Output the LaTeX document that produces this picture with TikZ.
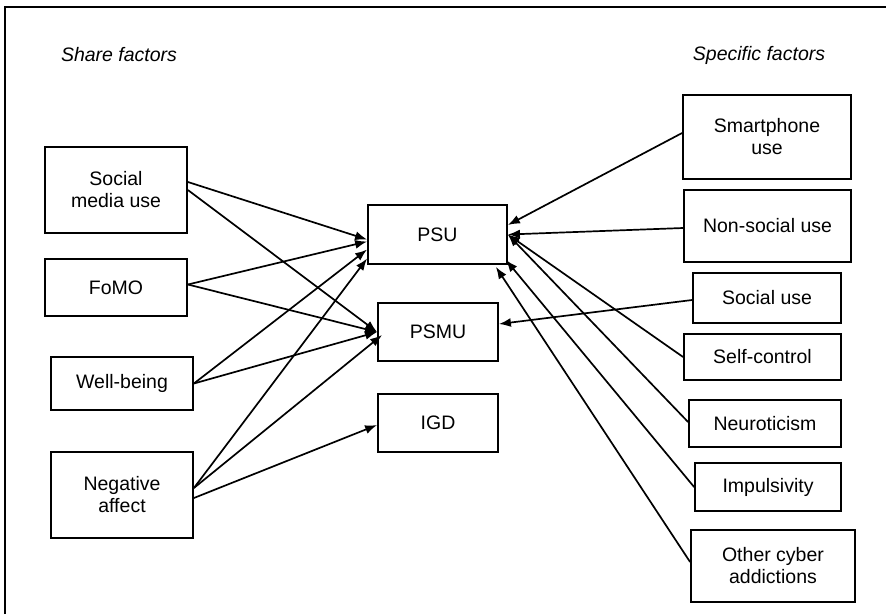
\documentclass[tikz,border=0pt]{standalone}
\usepackage{fontspec}
\setmainfont{Liberation Sans}
\usetikzlibrary{arrows.meta,calc}

\begin{document}
\begin{tikzpicture}[x=1pt,y=-1pt,
		factor/.style={draw,line width=1.8pt,align=center,inner sep=0pt,font=\fontsize{19.5}{22}\selectfont},
		heading/.style={font=\fontsize{19.5}{22}\selectfont\itshape},
		link/.style={line width=1.7pt,-{Latex[length=12pt,width=9pt]}}]
	\useasboundingbox (0,0) rectangle (886,614);
	% frame
	\draw[line width=1.8pt] (5,614) |- (886,7);
	% headings
	\node[heading] (shared) at (119,55) {Share factors};
	\node[heading] (specific) at (759,55) {Specific factors};
	% share factors
	\node[factor,minimum width=142pt,minimum height=86pt] (sm) at (116,190) {Social\\media use};
	\node[factor,minimum width=142pt,minimum height=57pt] (fomo) at (116,287.5) {FoMO};
	\node[factor,minimum width=142pt,minimum height=53pt] (wb) at (122,383.5) {Well-being};
	\node[factor,minimum width=142pt,minimum height=86pt] (na) at (122,495) {Negative\\affect};
	% outcomes
	\node[factor,minimum width=139pt,minimum height=59pt] (psu) at (437.5,234.5) {PSU};
	\node[factor,minimum width=120pt,minimum height=58pt] (psmu) at (438,332) {PSMU};
	\node[factor,minimum width=120pt,minimum height=58pt] (igd) at (438,423) {IGD};
	% specific factors
	\node[factor,minimum width=168pt,minimum height=84pt] (smart) at (767,137) {Smartphone\\use};
	\node[factor,minimum width=167pt,minimum height=72pt] (nonsoc) at (767.5,226) {Non-social use};
	\node[factor,minimum width=148pt,minimum height=50pt] (soc) at (767,298) {Social use};
	\node[factor,minimum width=157pt,minimum height=46pt] (selfc) at (762.5,357) {Self-control};
	\node[factor,minimum width=152pt,minimum height=47pt] (neuro) at (765,423.5) {Neuroticism};
	\node[factor,minimum width=146pt,minimum height=48pt] (impul) at (768,487) {Impulsivity};
	\node[factor,minimum width=164pt,minimum height=72pt] (other) at (773,566) {Other cyber\\addictions};
	% shared arrows
	\draw[link] ($(sm.east)+(0,-8)$) -- ($(psu.west)+(0,5)$);
	\draw[link] (sm.east) -- (psmu.west);
	\draw[link] ($(fomo.east)+(0,-3)$) -- ($(psu.west)+(0,7)$);
	\draw[link] ($(fomo.east)+(0,-3)$) -- (psmu.west);
	\draw[link] (wb.east) -- ($(psu.west)+(0,15)$);
	\draw[link] (wb.east) -- (psmu.west);
	\draw[link] ($(na.east)+(0,-7)$) -- ($(psu.west)+(0,24)$);
	\draw[link] ($(na.east)+(0,-7)$) -- ($(psmu.west)+(5,3)$);
	\draw[link] ($(na.east)+(0,3)$) -- ($(igd.west)+(0,2)$);
	% specific arrows
	\draw[link] ($(smart.west)+(0,-4)$) -- ($(psu.east)+(0,-9.5)$);
	\draw[link] ($(nonsoc.west)+(0,2)$) -- (psu.east);
	\draw[link] ($(soc.west)+(0,2)$) -- ($(psmu.east)+(0,-8)$);
	\draw[link] (selfc.west) -- (psu.east);
	\draw[link] ($(neuro.west)+(0,-1.5)$) -- (psu.east);
	\draw[link] (impul.west) -- ($(psu.south east)+(-2,-5)$);
	\draw[link] ($(other.west)+(0,-4)$) -- ($(psu.south east)+(-12,2)$);
\end{tikzpicture}
\end{document}
